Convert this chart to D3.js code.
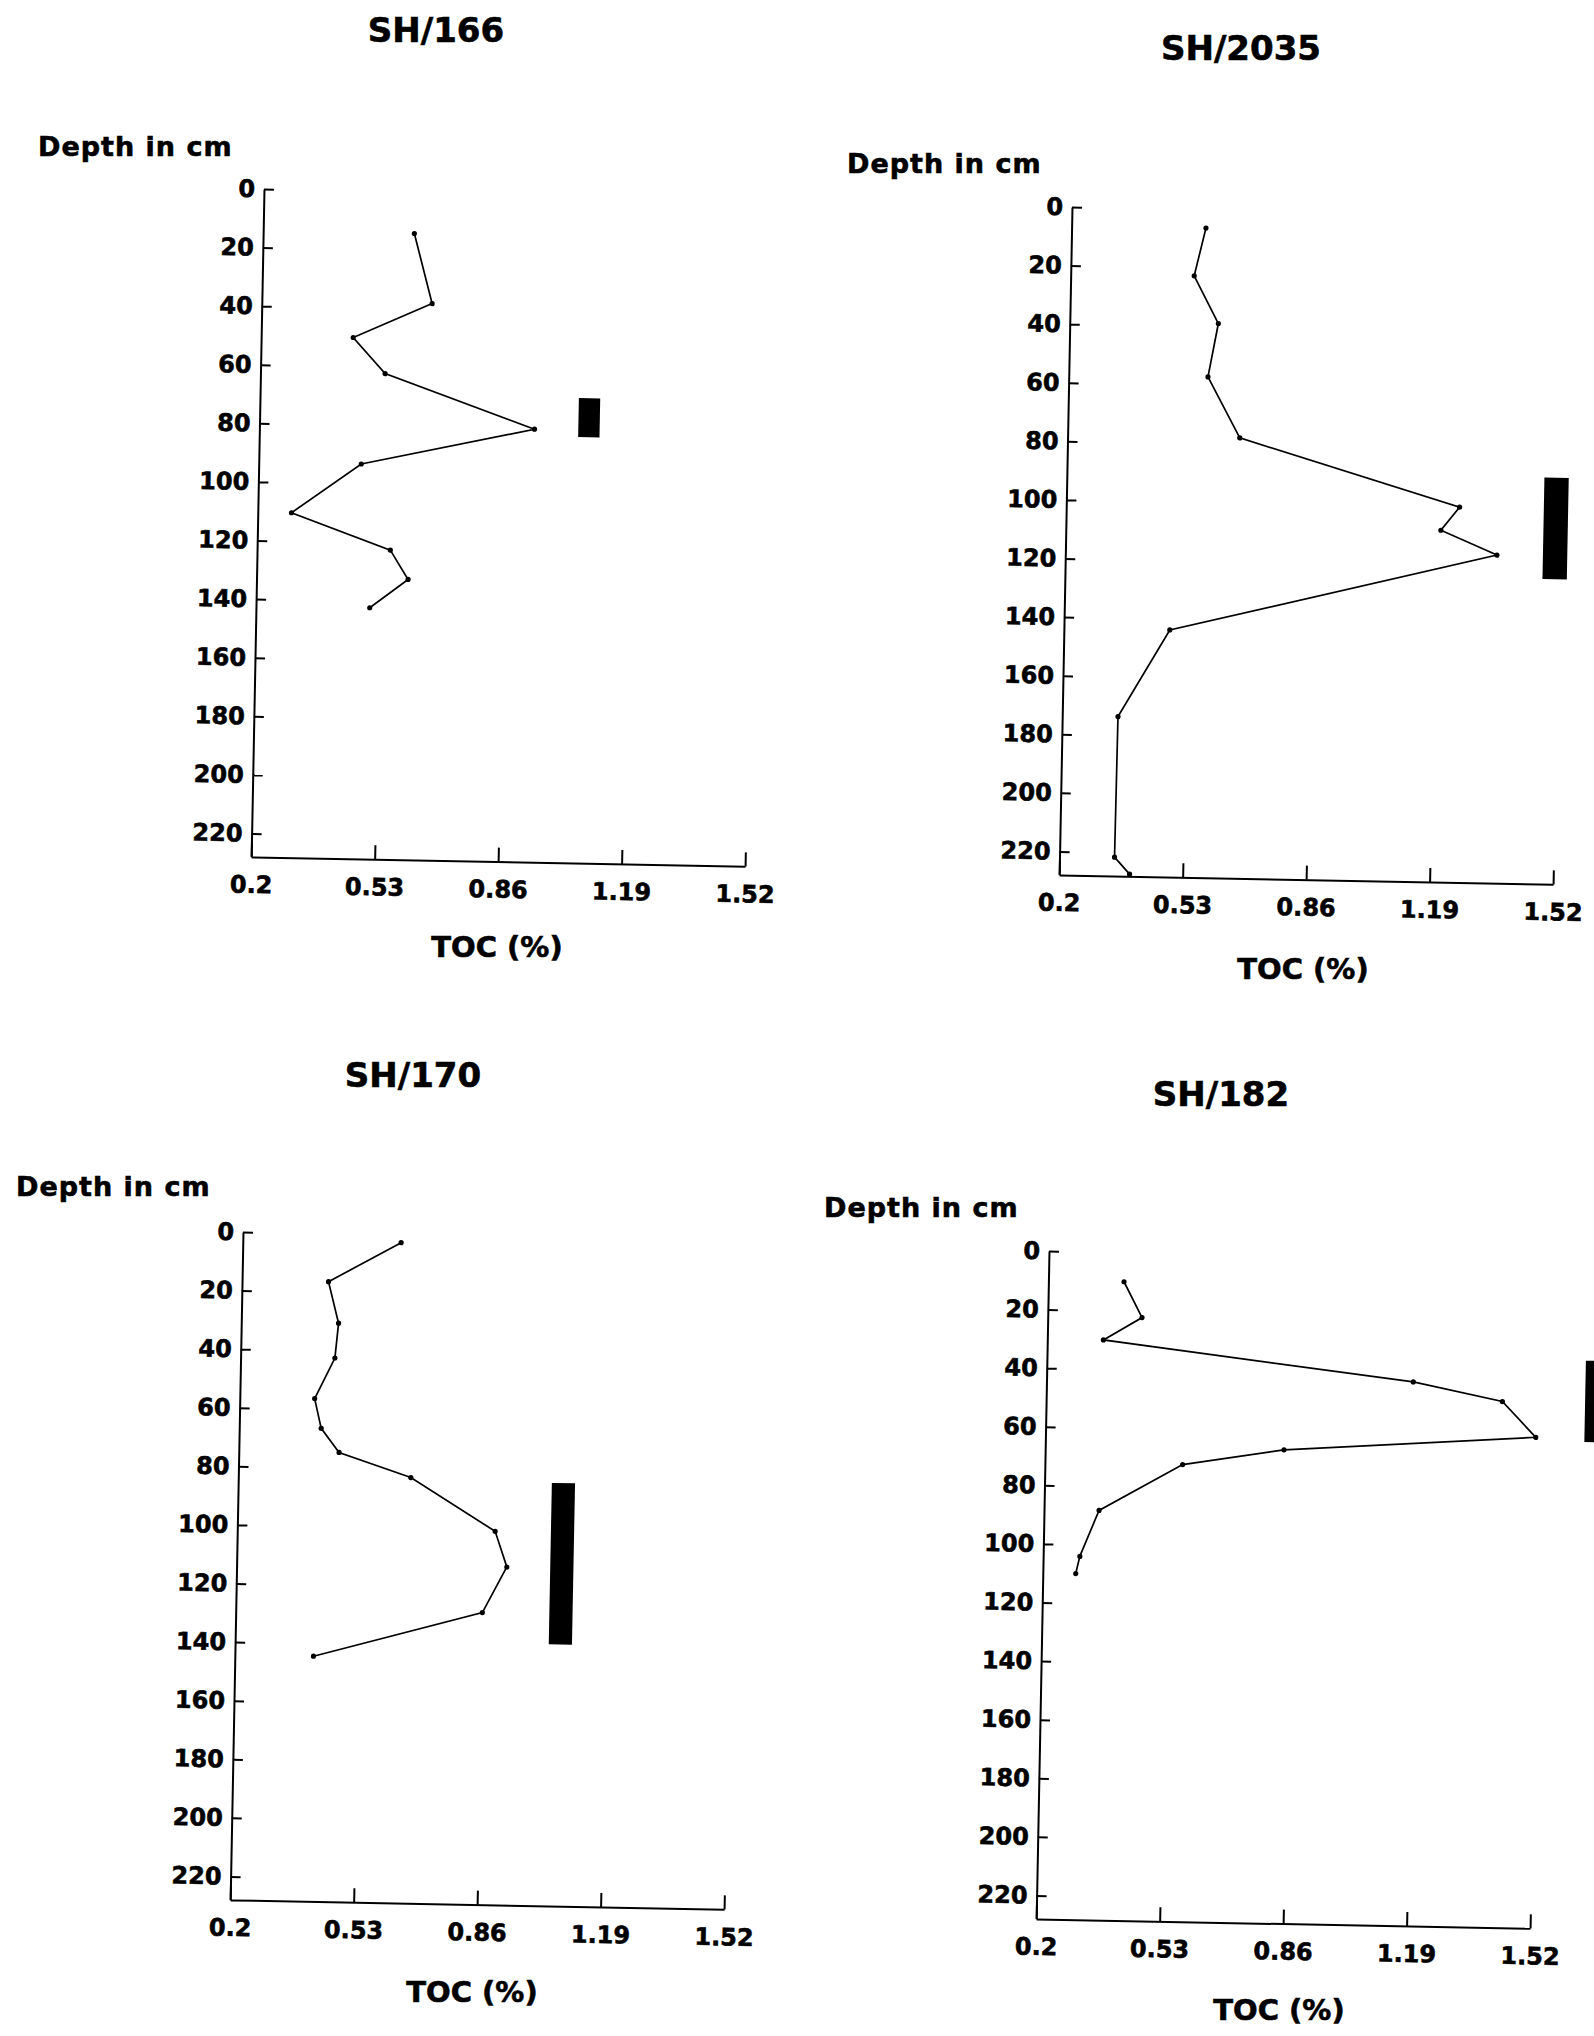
<!DOCTYPE html>
<html lang="en">
<head>
<meta charset="utf-8">
<script src="https://cdn.jsdelivr.net/npm/d3@7"></script>
<style>
    body { margin: 0; background: #fff; }
    svg { display: block; font-family: "DejaVu Sans", sans-serif; font-weight: bold; }
    svg text { stroke: #000; stroke-width: 0.6px; }
    .domain, .tick line { stroke: #000; stroke-width: 2; }
</style>
</head>
<body>
<script>
    // TOC profiles of the four cores: depth (cm) and TOC (%)
    const depth166 = [14.2, 38.0, 50.1, 62.2, 80.2, 93.2, 110.3, 122.4, 132.3, 142.2];
    const toc166 = [0.604, 0.655, 0.446, 0.533, 0.935, 0.474, 0.290, 0.556, 0.605, 0.504];

    const depth2035 = [6.3, 22.7, 38.8, 57.1, 77.7, 99.9, 107.9, 116.0, 143.7, 173.6, 221.6, 227.3];
    const toc2035 = [0.559, 0.530, 0.597, 0.572, 0.660, 1.251, 1.202, 1.353, 0.483, 0.349, 0.347, 0.388];

    const depth170 = [2.6, 16.4, 30.5, 42.4, 56.4, 66.5, 74.6, 82.7, 100.5, 112.6, 128.3, 144.3];
    const toc170 = [0.623, 0.431, 0.460, 0.452, 0.400, 0.419, 0.468, 0.661, 0.889, 0.922, 0.859, 0.410];

    const depth182 = [10.0, 22.1, 30.0, 42.3, 48.4, 60.4, 66.3, 72.0, 88.2, 104.0, 109.9];
    const toc182 = [0.402, 0.452, 0.350, 1.180, 1.419, 1.510, 0.838, 0.568, 0.347, 0.298, 0.288];

    // black bars: [toc from, toc to, depth from, depth to]
    const bar166 = [1.052, 1.109, 69.3, 82.6];
    const bar2035 = [1.476, 1.541, 89.2, 123.9];
    const bar170 = [1.038, 1.100, 83.6, 138.7];
    const bar182 = [1.640, 1.700, 33.9, 61.7];

    const xTicks = [0.2, 0.53, 0.86, 1.19, 1.52];
    const xTickLabels = ['0.2', '0.53', '0.86', '1.19', '1.52'];
    const yTicks = [0, 20, 40, 60, 80, 100, 120, 140, 160, 180, 200, 220];

    // page layout of each panel (the scan is tilted a little)
    const cores = [
        { name: 'SH/166', depth: depth166, toc: toc166, bar: bar166, ox: 264, oy: 189, title: [436, 42], label: [38, 156], xTitle: [497, 957] },
        { name: 'SH/2035', depth: depth2035, toc: toc2035, bar: bar2035, ox: 1072, oy: 207, title: [1241, 60], label: [847, 173], xTitle: [1303, 979] },
        { name: 'SH/170', depth: depth170, toc: toc170, bar: bar170, ox: 243, oy: 1232, title: [413, 1087], label: [16, 1196], xTitle: [472, 2002] },
        { name: 'SH/182', depth: depth182, toc: toc182, bar: bar182, ox: 1049, oy: 1251, title: [1221, 1106], label: [824, 1217], xTitle: [1279, 2020] }
    ];

    const w = 494;
    const h = 668;
    const tilt = 1.1;

    const x = d3.scaleLinear().domain([0.2, 1.52]).range([0, w]);
    const y = d3.scaleLinear().domain([0, 228]).range([0, h]);

    const svg = d3.select('body').append('svg')
        .attr('width', 1594)
        .attr('height', 2036);

    svg.append('rect').attr('width', 1594).attr('height', 2036).attr('fill', '#fff');

    cores.forEach(c => {
        svg.append('text')
            .attr('x', c.title[0])
            .attr('y', c.title[1])
            .attr('text-anchor', 'middle')
            .style('font-size', '34px')
            .text(c.name);

        svg.append('text')
            .attr('x', c.label[0])
            .attr('y', c.label[1])
            .style('font-size', '27px')
            .style('letter-spacing', '1px')
            .text('Depth in cm');

        svg.append('text')
            .attr('x', c.xTitle[0])
            .attr('y', c.xTitle[1])
            .attr('text-anchor', 'middle')
            .style('font-size', '29px')
            .text('TOC (%)');

        const g = svg.append('g')
            .attr('transform', 'translate(' + c.ox + ',' + c.oy + ') rotate(' + tilt + ')');

        g.append('g')
            .call(d3.axisLeft(y).tickValues(yTicks).tickSize(-10).tickSizeOuter(0).tickPadding(9).tickFormat(d3.format('d')))
            .call(a => a.selectAll('text').style('font-size', '24px').attr('fill', '#000'))
            .attr('font-family', null);

        g.append('g')
            .attr('transform', 'translate(0,' + h + ')')
            .call(d3.axisBottom(x).tickValues(xTicks).tickSize(-14).tickSizeOuter(0).tickPadding(19).tickFormat((d, i) => xTickLabels[i]))
            .call(a => a.selectAll('text').style('font-size', '24px').attr('fill', '#000'))
            .attr('font-family', null);

        const pts = c.depth.map((d, i) => [c.toc[i], d]);

        g.append('path')
            .datum(pts)
            .attr('fill', 'none')
            .attr('stroke', '#000')
            .attr('stroke-width', 1.7)
            .attr('d', d3.line().x(d => x(d[0])).y(d => y(d[1])));

        g.selectAll('circle')
            .data(pts)
            .enter()
            .append('circle')
            .attr('cx', d => x(d[0]))
            .attr('cy', d => y(d[1]))
            .attr('r', 2.6)
            .attr('fill', '#000');

        g.append('rect')
            .attr('x', x(c.bar[0]))
            .attr('y', y(c.bar[2]))
            .attr('width', x(c.bar[1]) - x(c.bar[0]))
            .attr('height', y(c.bar[3]) - y(c.bar[2]))
            .attr('fill', '#000');
    });
</script>
</body>
</html>
